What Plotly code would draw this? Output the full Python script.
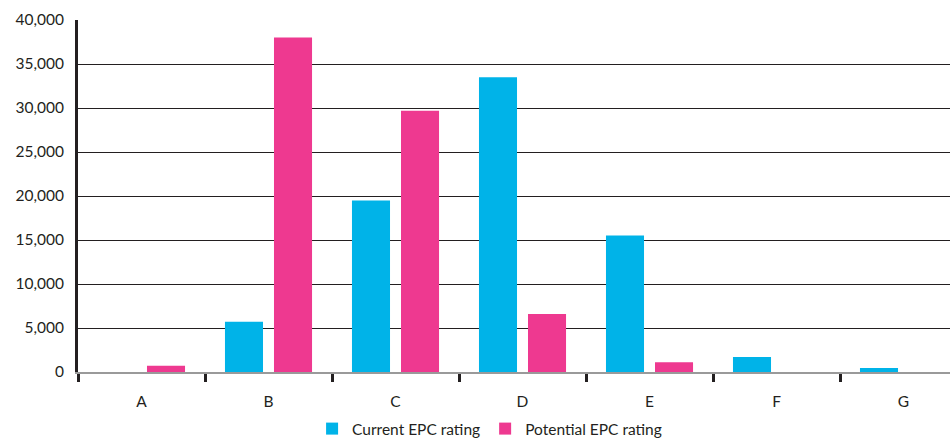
import plotly.graph_objects as go

# EPC rating bands and counts of properties in each
bands = ["A", "B", "C", "D", "E", "F", "G"]
current_epc = [0, 5700, 19500, 33500, 15500, 1700, 450]
potential_epc = [700, 38000, 29700, 6600, 1100, 0, 0]

y_ticks = [0, 5000, 10000, 15000, 20000, 25000, 30000, 35000, 40000]
y_tick_labels = ["0", "5,000", "10,000", "15,000", "20,000", "25,000", "30,000", "35,000", "40,000"]

BLUE = "#00b3e8"
PINK = "#ee3990"
INK = "#231f20"

fig = go.Figure()
fig.add_trace(go.Bar(x=bands, y=current_epc, name="Current EPC rating",
                     marker=dict(color=BLUE, line=dict(width=0))))
fig.add_trace(go.Bar(x=bands, y=potential_epc, name="Potential EPC rating",
                     marker=dict(color=PINK, line=dict(width=0))))

fig.update_layout(
    width=950, height=438,
    margin=dict(l=78, r=0, t=20, b=66, autoexpand=False),
    paper_bgcolor="white", plot_bgcolor="white",
    barmode="group", bargap=0.228, bargroupgap=0.224,
    font=dict(family="Lato, 'Open Sans', sans-serif", size=15.5, color=INK),
    showlegend=True,
    legend=dict(orientation="h", x=0.472, xanchor="center", y=-0.162, yanchor="middle",
                font=dict(size=15.5, color=INK), itemwidth=30, traceorder="normal"),
    xaxis=dict(
        type="category", range=[-0.5, 6.366], automargin=False,
        showline=True, linecolor="#9a9a9a", linewidth=2,
        ticks="outside", tickson="boundaries", ticklen=8, tickwidth=3, tickcolor=INK,
        ticklabelstandoff=14,
        showgrid=False, tickfont=dict(size=15.5, color=INK),
    ),
    yaxis=dict(
        range=[0, 40000], tickvals=y_ticks, ticktext=y_tick_labels, automargin=False,
        showgrid=True, gridcolor=INK, gridwidth=1.4,
        showline=True, linecolor=INK, linewidth=3,
        zeroline=False, ticks="", ticklabelstandoff=8,
        tickfont=dict(size=15.5, color=INK),
    ),
)

fig.write_html("out.html")
